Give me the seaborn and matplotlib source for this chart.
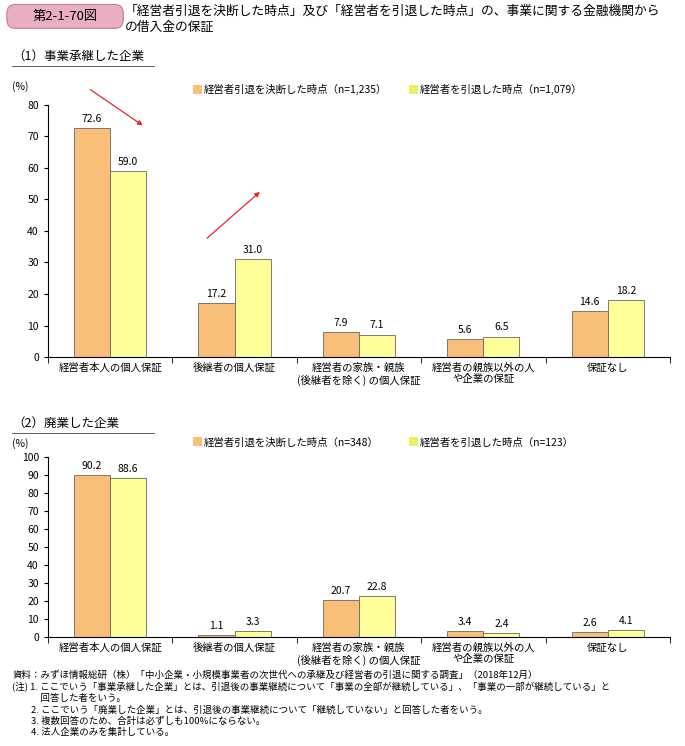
import matplotlib
matplotlib.use("Agg")
import matplotlib.pyplot as plt
import seaborn as sns
import pandas as pd
from matplotlib.patches import FancyBboxPatch

plt.rcParams["font.family"] = "Noto Sans CJK JP"

categories = ["経営者本人の個人保証", "後継者の個人保証", "経営者の家族・親族\n(後継者を除く) の個人保証",
              "経営者の親族以外の人\nや企業の保証", "保証なし"]
s1_decided = [72.6, 17.2, 7.9, 5.6, 14.6]
s1_retired = [59.0, 31.0, 7.1, 6.5, 18.2]
s2_decided = [90.2, 1.1, 20.7, 3.4, 2.6]
s2_retired = [88.6, 3.3, 22.8, 2.4, 4.1]
leg1 = ["経営者引退を決断した時点（n=1,235）", "経営者を引退した時点（n=1,079）"]
leg2 = ["経営者引退を決断した時点（n=348）", "経営者を引退した時点（n=123）"]
colors = ["#F9BE78", "#FFFF99"]

fig = plt.figure(figsize=(6.85, 7.46), dpi=100)

# header
fig.patches.append(FancyBboxPatch((0.01, 0.962), 0.17, 0.032, boxstyle="round,pad=0,rounding_size=0.012",
                                  transform=fig.transFigure, facecolor="#E8AFC3", edgecolor="#C97A99", lw=0.8))
fig.text(0.095, 0.978, "第2-1-70図", ha="center", va="center", fontsize=9.5)
fig.text(0.182, 0.993, "「経営者引退を決断した時点」及び「経営者を引退した時点」の、事業に関する金融機関から\nの借入金の保証",
         ha="left", va="top", fontsize=9.2, linespacing=1.25)

def panel(bottom, height, d, r, legs, ymax, title, ty):
    fig.text(0.018, ty, title, fontsize=9, ha="left", va="center")
    fig.add_artist(plt.Line2D([0.018, 0.225], [ty - 0.013, ty - 0.013], color="#444", lw=0.6,
                              transform=fig.transFigure))
    ax = fig.add_axes([0.07, bottom, 0.908, height])
    df = pd.DataFrame({"cat": categories * 2, "val": d + r, "ser": [legs[0]] * 5 + [legs[1]] * 5})
    sns.barplot(data=df, x="cat", y="val", hue="ser", palette=colors, width=0.58, ax=ax, saturation=1,
                edgecolor="#666666", linewidth=0.6, legend=False)
    for c in ax.containers:
        ax.bar_label(c, fmt="%.1f", fontsize=7.5, padding=3)
    ax.set_ylim(0, ymax)
    ax.set_xlim(-0.5, 4.5)
    ax.set_yticks(range(0, ymax + 1, 10))
    ax.tick_params(axis="y", labelsize=7.5, length=3)
    ax.set_xticks([i + 0.5 for i in range(-1, 5)], minor=True)
    ax.tick_params(axis="x", which="minor", length=4)
    ax.tick_params(axis="x", which="major", length=0, labelsize=7.5, pad=4)
    ax.set_xlabel(""); ax.set_ylabel("")
    for s in ["top", "right"]:
        ax.spines[s].set_visible(False)
    ax.text(-0.045, 1.06, "(%)", transform=ax.transAxes, fontsize=7.5, ha="center")
    fig.text(0.28, bottom + height + 0.02, "■", color=colors[0], fontsize=8, va="center")
    fig.text(0.298, bottom + height + 0.02, legs[0], fontsize=7.5, va="center")
    fig.text(0.595, bottom + height + 0.02, "■", color="#EEEE66", fontsize=8, va="center")
    fig.text(0.613, bottom + height + 0.02, legs[1], fontsize=7.5, va="center")
    return ax

ax1 = panel(0.5214, 0.338, s1_decided, s1_retired, leg1, 80, "（1）事業承継した企業", 0.924)
ax2 = panel(0.146, 0.241, s2_decided, s2_retired, leg2, 100, "（2）廃業した企業", 0.433)

# red arrows
for (x0, y0, x1, y1) in [(88, 88, 145, 127), (205, 240, 262, 190)]:
    fig.add_artist(matplotlib.patches.FancyArrowPatch((x0 / 685, 1 - y0 / 746), (x1 / 685, 1 - y1 / 746),
                   transform=fig.transFigure, arrowstyle="-|>", mutation_scale=7, color="#E8262B", lw=0.9))

notes = ("資料：みずほ情報総研（株）「中小企業・小規模事業者の次世代への承継及び経営者の引退に関する調査」（2018年12月）\n"
         "(注) 1. ここでいう「事業承継した企業」とは、引退後の事業継続について「事業の全部が継続している」、「事業の一部が継続している」と\n"
         "　　　回答した者をいう。\n"
         "　　2. ここでいう「廃業した企業」とは、引退後の事業継続について「継続していない」と回答した者をいう。\n"
         "　　3. 複数回答のため、合計は必ずしも100%にならない。\n"
         "　　4. 法人企業のみを集計している。")
fig.text(0.018, 0.102, notes, fontsize=6.8, va="top", ha="left", linespacing=1.3)

fig.savefig("out.png", dpi=100)
